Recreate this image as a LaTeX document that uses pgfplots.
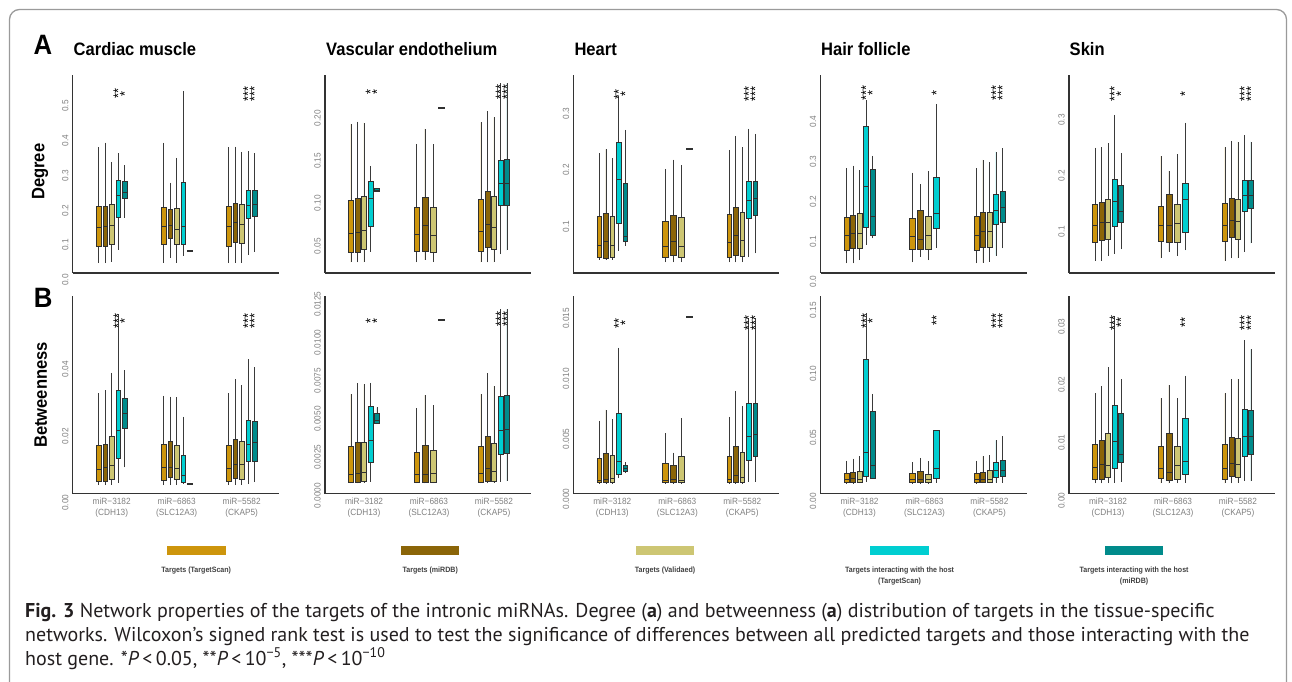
\documentclass[border=0pt]{standalone}
\usepackage{pgfplots}
\pgfplotsset{compat=1.18}
\usepgfplotslibrary{statistics}
\usepackage{fontspec}
\setmainfont{Liberation Sans}
\newfontfamily\chartfont{Liberation Sans}[FakeStretch=0.92]
\newfontfamily\capfont{PT Sans}
\definecolor{cTS}{HTML}{CD950C}
\definecolor{cDB}{HTML}{8B6508}
\definecolor{cVA}{HTML}{CDC673}
\definecolor{cHT}{HTML}{00CED1}
\definecolor{cHD}{HTML}{008B8B}
\definecolor{boxline}{HTML}{303030}
\definecolor{whisk}{HTML}{3A3A3A}
\definecolor{ticklab}{HTML}{808080}
\definecolor{axline}{HTML}{333333}
\definecolor{framecol}{HTML}{9A9A9A}
\definecolor{legtext}{HTML}{404040}
\definecolor{captext}{HTML}{231F20}

\newcommand{\bx}[8]{\addplot[boxplot prepared={draw position=#2, box extend=#3, whisker extend=0,
  lower whisker=#4, lower quartile=#5, median=#6, upper quartile=#7, upper whisker=#8},
  fill=#1, draw=boxline, line width=0.6pt] coordinates {};}
\newcommand{\bxa}[7]{\bx{#1}{#2}{0.072}{#3}{#4}{#5}{#6}{#7}}
\newcommand{\bxb}[7]{\bx{#1}{#2}{0.09}{#3}{#4}{#5}{#6}{#7}}
\newcommand{\st}[3]{\node[starnode] at (axis cs:#1,#2) {#3};}
\newcommand{\zl}[1]{\node[zeronode] at ([xshift=-4pt]axis cs:0.4,0) {#1};}

\pgfplotsset{
  panel/.style={
    scale only axis, width=206pt,
    xmin=0.4, xmax=3.57,
    axis x line*=bottom, axis y line*=left,
    axis line style={draw=axline, line width=1.1pt},
    major tick length=0pt, tick style={draw=none},
    xtick={1,2,3}, clip=false, scaled y ticks=false,
    boxplot/draw direction=y,
    yticklabel style={rotate=90, anchor=south, font=\chartfont\fontsize{9}{10}\selectfont, text=ticklab, inner sep=0pt},
    yticklabel shift=4pt,
    xticklabel style={align=center, anchor=north, font=\chartfont\fontsize{9}{11.5}\selectfont, text=ticklab, inner sep=0pt},
    xticklabel shift=4pt,
    boxplot/every median/.style={draw=boxline, line width=0.8pt},
    boxplot/every whisker/.style={draw=whisk, line width=0.6pt},
  },
  toprow/.style={panel, xtick=\empty, height=198pt},
  botrow/.style={panel, height=197.5pt,
    xticklabels={{miR−3182\\(CDH13)},{miR−6863\\(SLC12A3)},{miR−5582\\(CKAP5)}}},
}
\tikzset{
  starnode/.style={rotate=90, inner sep=0pt, font=\chartfont\fontsize{14}{14}\selectfont, text=black},
  zeronode/.style={rotate=90, anchor=south, inner sep=0pt, font=\chartfont\fontsize{9}{10}\selectfont, text=ticklab},
  ttl/.style={anchor=west, inner sep=0pt, font=\chartfont\bfseries\fontsize{18}{20}\selectfont},
  legt/.style={inner sep=0pt, font=\chartfont\bfseries\fontsize{7.7}{8}\selectfont, text=legtext},
  capl/.style={anchor=base west, inner sep=0pt, font=\capfont\fontsize{20}{22}\selectfont, text=captext},
}

\begin{document}
\begin{tikzpicture}[x=1pt,y=1pt]
\useasboundingbox (0,0) rectangle (1292,681);
\draw[framecol, line width=1.3pt, rounded corners=10pt] (9.5,-20) -- (9.5,671.5) -- (1286.5,671.5) -- (1286.5,-20);

% ---------- labels ----------
\node[inner sep=0pt, font=\chartfont\bfseries\fontsize{28}{30}\selectfont] at (43,636.3) {A};
\node[inner sep=0pt, font=\chartfont\bfseries\fontsize{28}{30}\selectfont] at (43.3,382.7) {B};
\node[rotate=90, inner sep=0pt, font=\chartfont\bfseries\fontsize{18}{20}\selectfont] at (40,509.3) {Degree};
\node[rotate=90, inner sep=0pt, font=\chartfont\bfseries\fontsize{18}{20}\selectfont] at (40.7,286) {Betweenness};
\node[ttl] at (73.5,632) {Cardiac muscle};
\node[ttl] at (326,632) {Vascular endothelium};
\node[ttl] at (574.3,632) {Heart};
\node[ttl] at (821,632) {Hair follicle};
\node[ttl] at (1069.5,632) {Skin};

% ---------- P1 Cardiac degree ----------
\begin{axis}[toprow, at={(72.7pt,408pt)}, anchor=south west, ymin=0.0198, ymax=0.5894,
  ytick={0.1,0.2,0.3,0.4,0.5}, yticklabels={0.1,0.2,0.3,0.4,0.5}]
\bxa{cTS}{0.8}{0.048}{0.098}{0.151}{0.211}{0.381}
\bxa{cDB}{0.9}{0.048}{0.098}{0.153}{0.212}{0.395}
\bxa{cVA}{1.0}{0.052}{0.103}{0.158}{0.218}{0.340}
\bxa{cHT}{1.1}{0.086}{0.179}{0.242}{0.287}{0.364}
\bxa{cHD}{1.2}{0.179}{0.235}{0.251}{0.283}{0.330}
\bxa{cTS}{1.8}{0.049}{0.102}{0.153}{0.208}{0.395}
\bxa{cDB}{1.9}{0.064}{0.119}{0.156}{0.204}{0.280}
\bxa{cVA}{2.0}{0.049}{0.102}{0.146}{0.206}{0.352}
\bxa{cHT}{2.1}{0.069}{0.102}{0.155}{0.281}{0.544}
\bxa{cHD}{2.2}{0.0822}{0.0822}{0.083}{0.0838}{0.0838}
\bxa{cTS}{2.8}{0.048}{0.096}{0.153}{0.211}{0.381}
\bxa{cDB}{2.9}{0.049}{0.108}{0.165}{0.220}{0.383}
\bxa{cVA}{3.0}{0.049}{0.105}{0.160}{0.217}{0.369}
\bxa{cHT}{3.1}{0.073}{0.177}{0.215}{0.258}{0.371}
\bxa{cHD}{3.2}{0.081}{0.182}{0.217}{0.257}{0.364}
\st{1.1}{0.535}{**}\st{1.2}{0.535}{*}\st{3.1}{0.535}{***}\st{3.2}{0.535}{***}
\zl{0.0}
\end{axis}

% ---------- P2 Vascular degree ----------
\begin{axis}[toprow, at={(325pt,408pt)}, anchor=south west, ymin=0.0183, ymax=0.2509,
  ytick={0.05,0.10,0.15,0.20}, yticklabels={0.05,0.10,0.15,0.20}]
\bxa{cTS}{0.8}{0.0308}{0.0426}{0.0645}{0.1037}{0.1934}
\bxa{cDB}{0.9}{0.0308}{0.0426}{0.0661}{0.1060}{0.1960}
\bxa{cVA}{1.0}{0.0308}{0.0457}{0.0680}{0.1088}{0.1949}
\bxa{cHT}{1.1}{0.0433}{0.0735}{0.1060}{0.1264}{0.1440}
\bxa{cHD}{1.2}{0.1138}{0.1138}{0.1158}{0.1178}{0.1178}
\bxb{cTS}{1.8125}{0.0308}{0.0433}{0.0637}{0.0950}{0.1699}
\bxb{cDB}{1.9375}{0.0336}{0.0433}{0.0739}{0.1068}{0.1875}
\bxb{cVA}{2.0625}{0.0308}{0.0426}{0.0629}{0.0950}{0.1695}
\bxb{cHT}{2.1875}{0.2118}{0.2118}{0.2125}{0.2132}{0.2132}
\bxa{cTS}{2.8}{0.0308}{0.0433}{0.0668}{0.1048}{0.1953}
\bxa{cDB}{2.9}{0.0308}{0.0480}{0.0755}{0.1138}{0.2086}
\bxa{cVA}{3.0}{0.0308}{0.0461}{0.0715}{0.1088}{0.2012}
\bxa{cHT}{3.1}{0.0402}{0.0978}{0.1232}{0.1503}{0.2411}
\bxa{cHD}{3.2}{0.0449}{0.0978}{0.1232}{0.1522}{0.2411}
\st{1.1}{0.2306}{*}\st{1.2}{0.2306}{*}\st{3.1}{0.2314}{***}\st{3.2}{0.2314}{***}
\end{axis}

% ---------- P3 Heart degree ----------
\begin{axis}[toprow, at={(573.3pt,408pt)}, anchor=south west, ymin=0.0182, ymax=0.3676,
  ytick={0.1,0.2,0.3}, yticklabels={0.1,0.2,0.3}]
\bxa{cTS}{0.8}{0.0412}{0.0453}{0.0676}{0.1188}{0.2294}
\bxa{cDB}{0.9}{0.0412}{0.0441}{0.0735}{0.1229}{0.2365}
\bxa{cVA}{1.0}{0.0412}{0.0453}{0.0676}{0.1188}{0.2218}
\bxa{cHT}{1.1}{0.0571}{0.1059}{0.1835}{0.2494}{0.3306}
\bxa{cHD}{1.2}{0.0665}{0.0747}{0.0835}{0.1759}{0.2706}
\bxb{cTS}{1.8125}{0.0371}{0.0453}{0.0647}{0.1088}{0.2018}
\bxb{cDB}{1.9375}{0.0371}{0.0500}{0.0747}{0.1194}{0.2182}
\bxb{cVA}{2.0625}{0.0371}{0.0459}{0.0653}{0.1165}{0.2082}
\bxb{cHT}{2.1875}{0.236}{0.236}{0.237}{0.238}{0.238}
\bxa{cTS}{2.8}{0.0371}{0.0459}{0.0724}{0.1218}{0.2353}
\bxa{cDB}{2.9}{0.0371}{0.0500}{0.0841}{0.1341}{0.2600}
\bxa{cVA}{3.0}{0.0371}{0.0476}{0.0753}{0.1247}{0.2400}
\bxa{cHT}{3.1}{0.0459}{0.1147}{0.1471}{0.1794}{0.2729}
\bxa{cHD}{3.2}{0.0529}{0.1194}{0.1506}{0.1806}{0.2635}
\st{1.1}{0.3335}{**}\st{1.2}{0.3335}{*}\st{3.1}{0.334}{***}\st{3.2}{0.334}{***}
\end{axis}

% ---------- P4 Hair follicle degree ----------
\begin{axis}[toprow, at={(820.5pt,408pt)}, anchor=south west, ymin=0.0217, ymax=0.5167,
  ytick={0.1,0.2,0.3,0.4}, yticklabels={0.1,0.2,0.3,0.4}]
\bxa{cTS}{0.8}{0.0458}{0.0792}{0.1167}{0.1617}{0.2833}
\bxa{cDB}{0.9}{0.0458}{0.0833}{0.1208}{0.1667}{0.2900}
\bxa{cVA}{1.0}{0.0533}{0.0833}{0.1208}{0.1700}{0.2792}
\bxa{cHT}{1.1}{0.0917}{0.1367}{0.2375}{0.3892}{0.4542}
\bxa{cHD}{1.2}{0.1083}{0.1150}{0.1625}{0.2817}{0.3142}
\bxb{cTS}{1.8125}{0.0483}{0.0808}{0.1133}{0.1583}{0.2725}
\bxb{cDB}{1.9375}{0.0625}{0.0808}{0.1058}{0.1792}{0.2433}
\bxb{cVA}{2.0625}{0.0533}{0.0808}{0.1167}{0.1642}{0.2767}
\bxb{cHT}{2.1875}{0.0850}{0.1325}{0.1708}{0.2600}{0.4442}
\bxa{cTS}{2.8}{0.0458}{0.0792}{0.1167}{0.1625}{0.2833}
\bxa{cDB}{2.9}{0.0475}{0.0867}{0.1258}{0.1733}{0.3042}
\bxa{cVA}{3.0}{0.0500}{0.0858}{0.1250}{0.1733}{0.2992}
\bxa{cHT}{3.1}{0.0650}{0.1433}{0.1792}{0.2183}{0.3250}
\bxa{cHD}{3.2}{0.0833}{0.1475}{0.1858}{0.2250}{0.3333}
\st{1.1}{0.4725}{***}\st{1.2}{0.4725}{*}\st{2.1875}{0.4725}{*}\st{3.1}{0.4725}{***}\st{3.2}{0.4725}{***}
\zl{0.0}
\end{axis}

% ---------- P5 Skin degree ----------
\begin{axis}[toprow, at={(1069pt,408pt)}, anchor=south west, ymin=0.026, ymax=0.3806,
  ytick={0.1,0.2,0.3}, yticklabels={0.1,0.2,0.3}]
\bxa{cTS}{0.8}{0.0481}{0.0815}{0.1107}{0.1490}{0.2504}
\bxa{cDB}{0.9}{0.0481}{0.0851}{0.1167}{0.1525}{0.2510}
\bxa{cVA}{1.0}{0.0564}{0.0863}{0.1167}{0.1585}{0.2582}
\bxa{cHT}{1.1}{0.0606}{0.1096}{0.1549}{0.1943}{0.3090}
\bxa{cHD}{1.2}{0.0684}{0.1161}{0.1370}{0.1836}{0.2403}
\bxb{cTS}{1.8125}{0.0522}{0.0833}{0.1107}{0.1448}{0.2355}
\bxb{cDB}{1.9375}{0.0642}{0.0809}{0.1107}{0.1669}{0.2087}
\bxb{cVA}{2.0625}{0.0564}{0.0809}{0.1143}{0.1490}{0.2385}
\bxb{cHT}{2.1875}{0.0666}{0.0994}{0.1579}{0.1872}{0.2952}
\bxa{cTS}{2.8}{0.0481}{0.0827}{0.1107}{0.1501}{0.2510}
\bxa{cDB}{2.9}{0.0522}{0.0893}{0.1209}{0.1597}{0.2624}
\bxa{cVA}{3.0}{0.0522}{0.0863}{0.1191}{0.1573}{0.2612}
\bxa{cHT}{3.1}{0.0642}{0.1370}{0.1657}{0.1925}{0.2731}
\bxa{cHD}{3.2}{0.0791}{0.1418}{0.1657}{0.1913}{0.2612}
\st{1.1}{0.346}{***}\st{1.2}{0.346}{*}\st{2.1875}{0.346}{*}\st{3.1}{0.346}{***}\st{3.2}{0.346}{***}
\end{axis}

% ---------- P6 Cardiac betweenness ----------
\begin{axis}[botrow, at={(72.7pt,187.5pt)}, anchor=south west, ymin=0.00275, ymax=0.062,
  ytick={0.02,0.04}, yticklabels={0.02,0.04}]
\bxa{cTS}{0.8}{0.0053}{0.0064}{0.0100}{0.0171}{0.0328}
\bxa{cDB}{0.9}{0.0053}{0.0064}{0.0105}{0.0175}{0.0338}
\bxa{cVA}{1.0}{0.0053}{0.0069}{0.0112}{0.0200}{0.0390}
\bxa{cHT}{1.1}{0.0060}{0.0133}{0.0218}{0.0338}{0.0566}
\bxa{cHD}{1.2}{0.0106}{0.0223}{0.0268}{0.0313}{0.0398}
\bxa{cTS}{1.8}{0.0053}{0.0066}{0.0106}{0.0174}{0.0321}
\bxa{cDB}{1.9}{0.0053}{0.0075}{0.0106}{0.0183}{0.0318}
\bxa{cVA}{2.0}{0.0053}{0.0070}{0.0102}{0.0173}{0.0316}
\bxa{cHT}{2.1}{0.0056}{0.0062}{0.0083}{0.0141}{0.0258}
\bxa{cHD}{2.2}{0.00545}{0.00545}{0.0056}{0.00575}{0.00575}
\bxa{cTS}{2.8}{0.0053}{0.0065}{0.0103}{0.0171}{0.0328}
\bxa{cDB}{2.9}{0.0053}{0.0072}{0.0116}{0.0190}{0.0370}
\bxa{cVA}{3.0}{0.0053}{0.0070}{0.0115}{0.0184}{0.0353}
\bxa{cHT}{3.1}{0.0056}{0.0123}{0.0175}{0.0246}{0.0430}
\bxa{cHD}{3.2}{0.0062}{0.0125}{0.0180}{0.0244}{0.0406}
\st{1.1}{0.0544}{***}\st{1.2}{0.0544}{*}\st{3.1}{0.0544}{***}\st{3.2}{0.0544}{***}
\zl{0.00}
\end{axis}

% ---------- P7 Vascular betweenness (values in units of 1e-3) ----------
\begin{axis}[botrow, at={(325pt,187.5pt)}, anchor=south west, ymin=0.139, ymax=13.028,
  ytick={2.5,5,7.5,10,12.5}, yticklabels={0.0025,0.0050,0.0075,0.0100,0.0125}]
\bxa{cTS}{0.8}{0.80}{0.87}{1.39}{3.19}{6.63}
\bxa{cDB}{0.9}{0.80}{0.87}{1.45}{3.48}{7.32}
\bxa{cVA}{1.0}{0.80}{0.93}{1.52}{3.48}{7.26}
\bxa{cHT}{1.1}{0.91}{2.15}{3.58}{5.80}{7.37}
\bxa{cHD}{1.2}{4.67}{4.72}{4.93}{5.37}{5.76}
\bxb{cTS}{1.8125}{0.80}{0.87}{1.41}{2.82}{5.69}
\bxb{cDB}{1.9375}{0.80}{0.87}{1.41}{3.26}{6.56}
\bxb{cVA}{2.0625}{0.80}{0.87}{1.45}{2.98}{5.91}
\bxb{cHT}{2.1875}{11.42}{11.42}{11.46}{11.50}{11.50}
\bxa{cTS}{2.8}{0.80}{0.87}{1.45}{3.19}{6.63}
\bxa{cDB}{2.9}{0.80}{0.93}{1.78}{3.84}{7.98}
\bxa{cVA}{3.0}{0.80}{0.93}{1.56}{3.41}{7.15}
\bxa{cHT}{3.1}{0.91}{2.72}{4.24}{6.50}{12.16}
\bxa{cHD}{3.2}{0.95}{2.76}{4.35}{6.56}{12.16}
\st{1.1}{11.41}{*}\st{1.2}{11.41}{*}\st{3.1}{11.54}{***}\st{3.2}{11.54}{***}
\zl{0.0000}
\end{axis}

% ---------- P8 Heart betweenness (values in units of 1e-3) ----------
\begin{axis}[botrow, at={(573.3pt,187.5pt)}, anchor=south west, ymin=0.457, ymax=16.87,
  ytick={5,10,15}, yticklabels={0.005,0.010,0.015}]
\bxa{cTS}{0.8}{1.30}{1.36}{1.58}{3.38}{6.51}
\bxa{cDB}{0.9}{1.30}{1.36}{1.66}{3.80}{7.40}
\bxa{cVA}{1.0}{1.30}{1.36}{1.72}{3.60}{6.62}
\bxa{cHT}{1.1}{1.72}{2.08}{3.10}{7.12}{12.58}
\bxa{cHD}{1.2}{2.13}{2.27}{2.55}{2.83}{3.05}
\bxb{cTS}{1.8125}{1.30}{1.36}{1.52}{2.96}{5.46}
\bxb{cDB}{1.9375}{1.30}{1.36}{1.63}{2.80}{3.85}
\bxb{cVA}{2.0625}{1.30}{1.36}{1.58}{3.52}{6.70}
\bxb{cHT}{2.1875}{15.10}{15.10}{15.15}{15.20}{15.20}
\bxa{cTS}{2.8}{1.30}{1.36}{1.63}{3.52}{6.84}
\bxa{cDB}{2.9}{1.30}{1.36}{2.00}{4.40}{8.98}
\bxa{cVA}{3.0}{1.30}{1.36}{1.80}{3.88}{7.73}
\bxa{cHT}{3.1}{1.44}{3.24}{5.18}{7.95}{15.01}
\bxa{cHD}{3.2}{1.44}{3.52}{5.40}{7.95}{15.01}
\st{1.1}{14.6}{**}\st{1.2}{14.6}{*}\st{3.1}{14.6}{***}\st{3.2}{14.6}{***}
\zl{0.000}
\end{axis}

% ---------- P9 Hair follicle betweenness ----------
\begin{axis}[botrow, at={(820.5pt,187.5pt)}, anchor=south west, ymin=0.006217, ymax=0.16111,
  ytick={0.05,0.10,0.15}, yticklabels={0.05,0.10,0.15}]
\bxa{cTS}{0.8}{0.0143}{0.0148}{0.0175}{0.0217}{0.0320}
\bxa{cDB}{0.9}{0.0143}{0.0148}{0.0180}{0.0228}{0.0336}
\bxa{cVA}{1.0}{0.0143}{0.0151}{0.0169}{0.0235}{0.0354}
\bxa{cHT}{1.1}{0.0151}{0.0201}{0.0381}{0.1116}{0.1479}
\bxa{cHD}{1.2}{0.0177}{0.0183}{0.0280}{0.0706}{0.0844}
\bxb{cTS}{1.8125}{0.0143}{0.0148}{0.0175}{0.0217}{0.0307}
\bxb{cDB}{1.9375}{0.0143}{0.0148}{0.0175}{0.0235}{0.0341}
\bxb{cVA}{2.0625}{0.0143}{0.0148}{0.0169}{0.0214}{0.0315}
\bxb{cHT}{2.1875}{0.0148}{0.0183}{0.0257}{0.0558}{0.0558}
\bxa{cTS}{2.8}{0.0143}{0.0148}{0.0175}{0.0217}{0.0320}
\bxa{cDB}{2.9}{0.0143}{0.0151}{0.0175}{0.0230}{0.0354}
\bxa{cVA}{3.0}{0.0143}{0.0151}{0.0175}{0.0241}{0.0365}
\bxa{cHT}{3.1}{0.0148}{0.0188}{0.0241}{0.0307}{0.0479}
\bxa{cHD}{3.2}{0.0148}{0.0196}{0.0243}{0.0323}{0.0513}
\st{1.1}{0.1418}{***}\st{1.2}{0.1418}{*}\st{2.1875}{0.1418}{**}\st{3.1}{0.1418}{***}\st{3.2}{0.1418}{***}
\zl{0.00}
\end{axis}

% ---------- P10 Skin betweenness (values in units of 1e-2) ----------
\begin{axis}[botrow, at={(1069pt,187.5pt)}, anchor=south west, ymin=0.1236, ymax=3.5287,
  ytick={1,2,3}, yticklabels={0.01,0.02,0.03}]
\bxa{cTS}{0.8}{0.30}{0.368}{0.569}{0.971}{1.85}
\bxa{cDB}{0.9}{0.30}{0.374}{0.632}{1.034}{1.98}
\bxa{cVA}{1.0}{0.30}{0.397}{0.615}{1.161}{2.30}
\bxa{cHT}{1.1}{0.31}{0.557}{1.023}{1.65}{3.18}
\bxa{cHD}{1.2}{0.328}{0.655}{0.805}{1.506}{2.09}
\bxb{cTS}{1.8125}{0.30}{0.379}{0.563}{0.931}{1.764}
\bxb{cDB}{1.9375}{0.30}{0.356}{0.489}{1.161}{1.994}
\bxb{cVA}{2.0625}{0.30}{0.374}{0.609}{0.943}{1.764}
\bxb{cHT}{2.1875}{0.31}{0.454}{0.684}{1.42}{2.155}
\bxa{cTS}{2.8}{0.30}{0.374}{0.563}{0.971}{1.85}
\bxa{cDB}{2.9}{0.30}{0.414}{0.644}{1.092}{2.09}
\bxa{cVA}{3.0}{0.31}{0.397}{0.632}{1.08}{2.10}
\bxa{cHT}{3.1}{0.339}{0.77}{1.103}{1.575}{2.77}
\bxa{cHD}{3.2}{0.339}{0.799}{1.103}{1.552}{2.61}
\st{1.1}{3.07}{***}\st{1.2}{3.07}{**}\st{2.1875}{3.07}{**}\st{3.1}{3.07}{***}\st{3.2}{3.07}{***}
\zl{0.00}
\end{axis}

% ---------- legend ----------
\fill[cTS] (167,126) rectangle (225.5,135);
\fill[cDB] (401.3,126) rectangle (459,135);
\fill[cVA] (635.8,126) rectangle (694.3,135);
\fill[cHT] (870.3,126) rectangle (928.8,135);
\fill[cHD] (1104.9,126) rectangle (1163.3,135);
\node[legt] at (196.2,110) {Targets (TargetScan)};
\node[legt] at (430.2,110) {Targets (miRDB)};
\node[legt] at (665,110) {Targets (Validaed)};
\node[legt] at (899.6,110) {Targets interacting with the host};
\node[legt] at (899.6,99) {(TargetScan)};
\node[legt] at (1134.1,110) {Targets interacting with the host};
\node[legt] at (1134.1,99) {(miRDB)};

% ---------- caption ----------
\node[capl] at (25,64) {\textbf{Fig. 3} Network properties of the targets of the intronic miRNAs. Degree (\textbf{a}) and betweenness (\textbf{a}) distribution of targets in the tissue-specific};
\node[capl] at (25,40) {networks. Wilcoxon’s signed rank test is used to test the significance of differences between all predicted targets and those interacting with the};
\node[capl] at (25,16) {host gene. *\textit{P}\,<\,0.05, **\textit{P}\,<\,10\textsuperscript{−5}, ***\textit{P}\,<\,10\textsuperscript{−10}};
\end{tikzpicture}
\end{document}
